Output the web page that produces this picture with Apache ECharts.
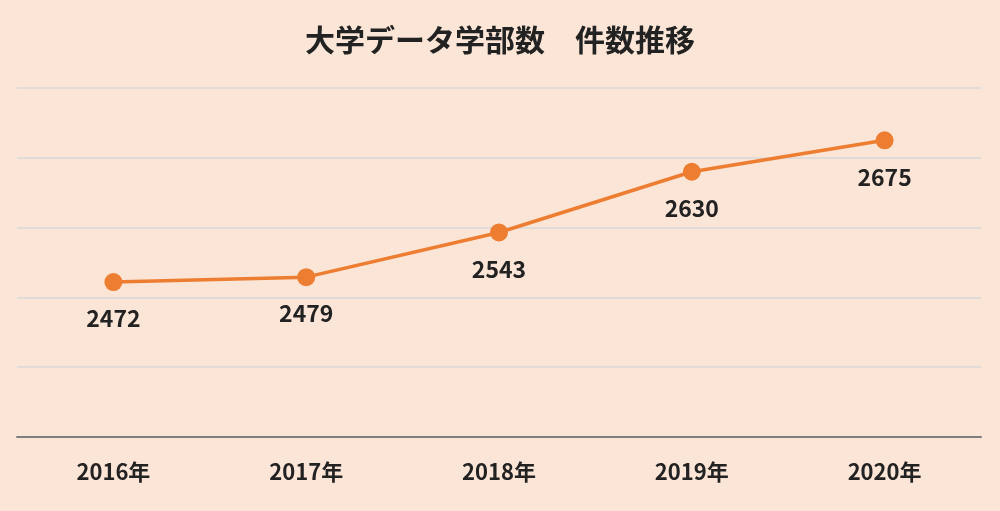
<!DOCTYPE html>
<html>
<head>
<meta charset="utf-8">
<script src="https://cdn.jsdelivr.net/npm/echarts@6/dist/echarts.min.js"></script>
<style>
html, body { margin: 0; padding: 0; background: #fbe5d6; }
#chart { width: 1000px; height: 511px; }
</style>
</head>
<body>
<div id="chart"></div>
<script>
var years = ["2016年", "2017年", "2018年", "2019年", "2020年"];
var counts = [2472, 2479, 2543, 2630, 2675];

var chart = echarts.init(document.getElementById("chart"));
chart.setOption({
    backgroundColor: "#fbe5d6",
    textStyle: { fontFamily: "Noto Sans CJK JP, sans-serif" },
    title: {
        text: "大学データ学部数　件数推移",
        left: "center",
        top: 20,
        textStyle: { fontSize: 30, fontWeight: "bold", color: "#222" }
    },
    grid: { left: 17, right: 19, top: 88, bottom: 74 },
    xAxis: {
        type: "category",
        data: years,
        boundaryGap: true,
        axisLine: { lineStyle: { color: "#7f7f7f", width: 2 } },
        axisTick: { show: false },
        axisLabel: { fontSize: 22, fontWeight: "bold", color: "#222", margin: 24 }
    },
    yAxis: {
        type: "value",
        min: 2250,
        max: 2750,
        interval: 100,
        axisLabel: { show: false },
        axisLine: { show: false },
        axisTick: { show: false },
        splitLine: { lineStyle: { color: "#d9d9d9", width: 1.5 } }
    },
    series: [{
        type: "line",
        data: counts,
        symbol: "circle",
        symbolSize: 18,
        lineStyle: { color: "#ed7d31", width: 3.5 },
        itemStyle: { color: "#ed7d31" },
        label: {
            show: true,
            position: "bottom",
            distance: 16,
            fontSize: 23,
            fontWeight: "bold",
            color: "#222"
        },
        animation: false
    }]
});
</script>
</body>
</html>
